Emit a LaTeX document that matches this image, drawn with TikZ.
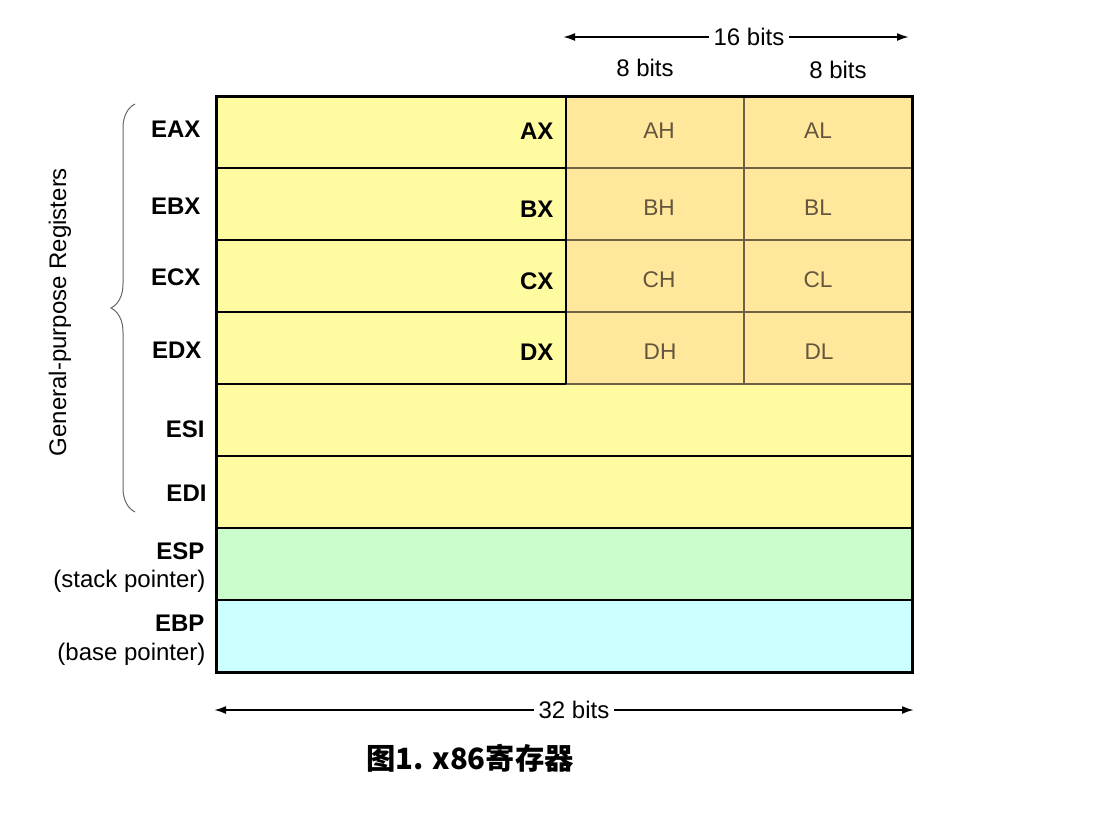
\documentclass[tikz,border=0pt]{standalone}
\usepackage{fontspec}
\setmainfont{Liberation Sans}
\newfontfamily\cjk{Noto Sans CJK SC}
\usetikzlibrary{decorations.pathreplacing,arrows.meta}

\definecolor{regyellow}{RGB}{255,251,160}
\definecolor{halfyellow}{RGB}{255,232,156}
\definecolor{spgreen}{RGB}{204,251,204}
\definecolor{bpcyan}{RGB}{204,255,255}
\definecolor{cellline}{RGB}{112,96,72}
\definecolor{celltext}{RGB}{100,86,62}

\tikzset{every picture/.style={line width=0.75pt}}
\tikzset{
  regname/.style={anchor=east,inner sep=0.75pt,font=\fontsize{18}{21}\selectfont\bfseries},
  regnote/.style={anchor=east,inner sep=0.75pt,font=\fontsize{18}{21}\selectfont},
  halfname/.style={inner sep=0.75pt,text=celltext,font=\fontsize{17}{20}\selectfont},
  bitslabel/.style={inner sep=3pt,fill=white,font=\fontsize{18}{21}\selectfont},
  bitsarrow/.style={line width=1.5pt,-{Latex[length=9pt,width=6pt]}}
}

\begin{document}
\begin{tikzpicture}[x=0.75pt,y=0.75pt,yscale=-1,xscale=1]
\useasboundingbox (0,0) rectangle (1104,822);

%Shape: Rectangle fills
\fill[regyellow] (216,96) rectangle (912,528);
\fill[spgreen] (216,528) rectangle (912,600);
\fill[bpcyan] (216,600) rectangle (912,672);
\fill[halfyellow] (566,96) rectangle (912,384);

%Row separators
\foreach \y in {168,240,312,384,456,528,600}
  \draw[line width=1.5pt] (216,\y) -- (912,\y);

%Half-register cells
\foreach \y in {168,240,312,384}
  \draw[cellline,line width=1.5pt] (566,\y) -- (912,\y);
\draw[cellline,line width=1.5pt] (744,96) -- (744,384);
\draw[line width=1.5pt] (566,96) -- (566,384);

%Outer frame
\draw[line width=2.25pt] (216,96) rectangle (912,672);

% Text Node
\node[regname] (eax) at (202,129) {EAX};
\node[regname] (ebx) at (202,206) {EBX};
\node[regname] (ecx) at (202,277) {ECX};
\node[regname] (edx) at (203,350) {EDX};
\node[regname] (esi) at (206,429) {ESI};
\node[regname] (edi) at (208,493) {EDI};
\node[regname] (esp) at (206,551) {ESP};
\node[regnote] (espnote) at (207,581) {(stack pointer)};
\node[regname] (ebp) at (206,623) {EBP};
\node[regnote] (ebpnote) at (207,654) {(base pointer)};

% Text Node
\node[regname] (ax) at (555,131) {AX};
\node[regname] (bx) at (555,209) {BX};
\node[regname] (cx) at (555,281) {CX};
\node[regname] (dx) at (555,352) {DX};

% Text Node
\node[halfname] (ah) at (659,131) {AH};
\node[halfname] (al) at (818,131) {AL};
\node[halfname] (bh) at (659,208) {BH};
\node[halfname] (bl) at (818,208) {BL};
\node[halfname] (ch) at (659,280) {CH};
\node[halfname] (cl) at (818,280) {CL};
\node[halfname] (dh) at (660,352) {DH};
\node[halfname] (dl) at (819,352) {DL};

% Bit widths
\node[bitslabel] (hibits) at (645,68) {8 bits};
\node[bitslabel] (lobits) at (838,70) {8 bits};
\node[bitslabel] (sixteen) at (749,37) {16 bits};
\coordinate (sixteenw) at (563,37);
\coordinate (sixteene) at (909,37);
\draw[bitsarrow] (sixteen) -- (sixteenw);
\draw[bitsarrow] (sixteen) -- (sixteene);
\node[bitslabel] (thirtytwo) at (574,710) {32 bits};
\coordinate (thirtytwow) at (214,710);
\coordinate (thirtytwoe) at (914,710);
\draw[bitsarrow] (thirtytwo) -- (thirtytwow);
\draw[bitsarrow] (thirtytwo) -- (thirtytwoe);

% Brace
\coordinate (bracetop) at (135,104);
\coordinate (bracebot) at (135,512);
\draw[black!60,decorate,decoration={brace,mirror,amplitude=18pt}] (bracetop) -- (bracebot);
\node[rotate=90,inner sep=0.75pt,font=\fontsize{18}{21}\selectfont] (gpr) at (60,312) {General-purpose Registers};

% Caption
\node[inner sep=0.75pt,font=\cjk\bfseries\fontsize{22}{26}\selectfont] (caption) at (470,758) {图1. x86寄存器};

\end{tikzpicture}
\end{document}
